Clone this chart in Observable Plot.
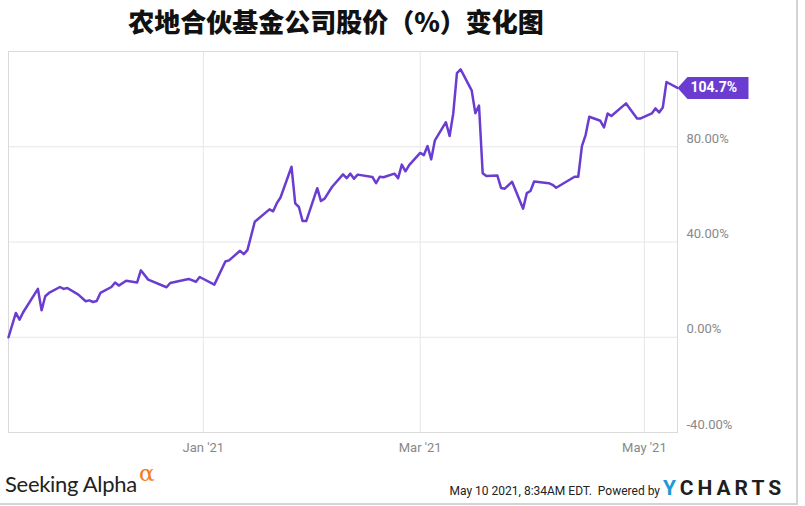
<!DOCTYPE html>
<html><head><meta charset="utf-8">
<script src="https://cdn.jsdelivr.net/npm/d3@7"></script>
<script src="https://cdn.jsdelivr.net/npm/@observablehq/plot@0.6"></script>
<style>
body{margin:0;background:#fff;}
#wrap{position:relative;width:805px;height:506px;overflow:hidden;background:#fff;}
#title{position:absolute;left:0;top:5px;width:672px;text-align:center;font-family:"Noto Sans CJK SC",sans-serif;font-weight:900;font-size:26px;line-height:32px;color:#111;letter-spacing:0px;}
#chart{position:absolute;left:0;top:44px;}
#sa{position:absolute;left:5px;top:473px;font-family:Lato,sans-serif;font-size:22px;line-height:22px;color:#222;letter-spacing:-0.3px;}
#alpha{position:absolute;left:139px;top:462px;font-family:"DejaVu Serif",serif;font-size:23px;line-height:23px;color:#f47920;}
#stamp{position:absolute;right:145px;top:484px;font-family:Roboto,sans-serif;font-size:12px;line-height:14px;color:#222;white-space:nowrap;}
#logo{position:absolute;left:663px;top:478px;font-family:Roboto,sans-serif;font-weight:bold;font-size:21px;line-height:21px;color:#1f1f1f;letter-spacing:4px;white-space:nowrap;}
#logo span{color:#1e9ad6;}
#br{position:absolute;left:796px;top:0;width:2px;height:505px;background:#d4d4d4;}
#bb{position:absolute;left:0;top:503px;width:798px;height:2px;background:#d4d4d4;}
</style></head><body>
<div id="wrap">
  <div id="title"></div>
  <div id="chart"></div>
  <div id="sa">Seeking Alpha</div>
  <div id="alpha">α</div>
  <div id="stamp"></div>
  <div id="logo"><span>Y</span>CHARTS</div>
  <div id="br"></div><div id="bb"></div>
</div>
<script>
const titleText = "农地合伙基金公司股价（%）变化图";
const stampText = "May 10 2021, 8:34AM EDT.\u00a0 Powered by";

const dates = [
 "2020-11-09","2020-11-11","2020-11-12","2020-11-13","2020-11-17","2020-11-18","2020-11-19","2020-11-20",
 "2020-11-23","2020-11-24","2020-11-25","2020-11-28","2020-11-30","2020-12-01","2020-12-02","2020-12-03",
 "2020-12-04","2020-12-07","2020-12-08","2020-12-09","2020-12-11","2020-12-14","2020-12-15","2020-12-17",
 "2020-12-22","2020-12-23","2020-12-28","2020-12-30","2020-12-31","2021-01-04","2021-01-07","2021-01-08",
 "2021-01-11","2021-01-12","2021-01-13","2021-01-15","2021-01-19","2021-01-20","2021-01-21","2021-01-22",
 "2021-01-25","2021-01-26","2021-01-27","2021-01-28","2021-01-29","2021-02-01","2021-02-02","2021-02-03",
 "2021-02-05","2021-02-08","2021-02-09","2021-02-10","2021-02-11","2021-02-12","2021-02-16","2021-02-17",
 "2021-02-18","2021-02-19","2021-02-22","2021-02-23","2021-02-24","2021-02-25","2021-02-26","2021-03-01",
 "2021-03-02","2021-03-03","2021-03-04","2021-03-05","2021-03-08","2021-03-09","2021-03-10","2021-03-11",
 "2021-03-12","2021-03-15","2021-03-16","2021-03-17","2021-03-18","2021-03-19","2021-03-22","2021-03-23",
 "2021-03-24","2021-03-26","2021-03-29","2021-03-30","2021-03-31","2021-04-01","2021-04-05","2021-04-06",
 "2021-04-07","2021-04-12","2021-04-13","2021-04-14","2021-04-15","2021-04-16","2021-04-19","2021-04-20",
 "2021-04-21","2021-04-22","2021-04-26","2021-04-28","2021-04-29","2021-04-30","2021-05-03","2021-05-04",
 "2021-05-05","2021-05-06","2021-05-07","2021-05-10"
];
const values = [
 0.0,10.2,7.4,10.5,20.3,11.3,17.2,18.6,
 21.1,20.3,20.7,17.9,15.1,15.5,14.8,15.2,
 18.6,21.1,23.0,21.7,23.7,23.0,28.1,24.2,
 21.0,22.8,24.5,23.3,25.3,22.1,31.8,32.3,
 36.3,34.9,36.6,48.5,53.7,52.9,56.3,58.7,
 71.6,56.2,54.7,48.8,48.8,62.6,57.2,58.2,
 63.1,68.4,66.8,68.7,66.6,68.3,67.3,64.7,
 67.4,67.2,68.7,66.8,72.5,69.7,72.3,77.4,
 76.5,80.3,74.7,82.7,90.3,84.5,94.0,110.9,
 112.5,103.7,94.1,97.3,68.9,67.7,67.9,62.7,
 62.4,65.3,54.0,60.5,61.4,65.4,64.7,64.0,
 62.8,67.4,67.4,80.3,84.9,92.6,90.9,88.1,
 94.0,92.9,98.2,94.0,91.9,91.9,94.0,96.1,
 94.4,96.5,107.2,104.7
];
const yTicks = [-40, 0, 40, 80];
const yGrid = [0, 40, 80];
const yDomain = [-40, 120];
const xTickDates = ["2021-01-01","2021-03-01","2021-05-01"];
const xTickLabels = ["Jan '21","Mar '21","May '21"];
const lineColor = "#6a3dd0";

document.getElementById("title").textContent = titleText;
document.getElementById("stamp").textContent = stampText;

const data = dates.map((d, i) => ({date: new Date(d), value: values[i]}));
const xTicks = xTickDates.map(d => new Date(d));
const last = data[data.length - 1];

const callout = {
  draw(ctx) {
    ctx.moveTo(0, 0);
    ctx.lineTo(10, -11);
    ctx.lineTo(71, -11);
    ctx.lineTo(71, 11);
    ctx.lineTo(10, 11);
    ctx.closePath();
  }
};

const chart = Plot.plot({
  width: 805,
  height: 420,
  marginTop: 7,
  marginBottom: 32,
  marginLeft: 8,
  marginRight: 128,
  x: {type: "utc", domain: [data[0].date, last.date], label: null},
  y: {domain: yDomain, label: null},
  style: {fontFamily: "Roboto, sans-serif", fontSize: "13px", color: "#888", background: "transparent"},
  marks: [
    Plot.gridY(yGrid, {stroke: "#e6e6e6", strokeOpacity: 1}),
    Plot.gridX(xTicks, {stroke: "#e6e6e6", strokeOpacity: 1}),
    Plot.frame({stroke: "#dadada"}),
    Plot.axisX(xTicks, {tickSize: 0, tickPadding: 10, fill: "#888", label: null,
      tickFormat: d => xTickLabels[xTicks.findIndex(t => +t === +d)]}),
    Plot.axisY(yTicks, {anchor: "right", tickSize: 0, tickPadding: 9, dy: -8, fill: "#888", label: null,
      tickFormat: d => d.toFixed(2) + "%"}),
    Plot.lineY(data, {x: "date", y: "value", stroke: lineColor, strokeWidth: 2.5}),
    Plot.dot([last], {x: "date", y: "value", symbol: callout, fill: lineColor, stroke: null}),
    Plot.text([last], {x: "date", y: "value", text: d => d.value.toFixed(1) + "%", dx: 13,
      textAnchor: "start", fill: "white", fontWeight: "bold", fontSize: 14, letterSpacing: "0.6px"})
  ]
});
document.getElementById("chart").appendChild(chart);
</script>
</body></html>
